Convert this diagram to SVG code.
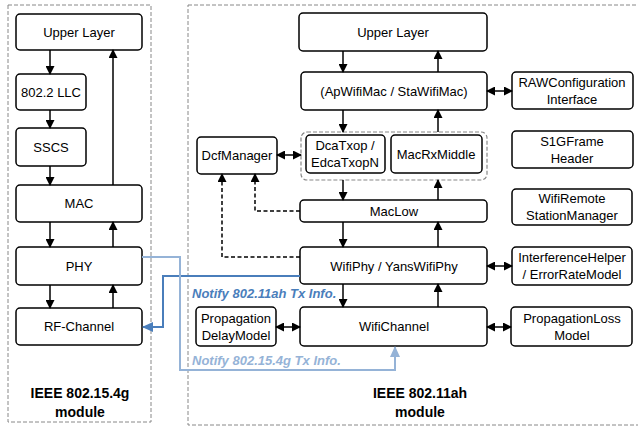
<svg xmlns="http://www.w3.org/2000/svg" width="638" height="428" viewBox="0 0 638 428">
<defs>
<marker id="ah" markerWidth="9" markerHeight="9" refX="8" refY="4.5" orient="auto-start-reverse" markerUnits="userSpaceOnUse"><path d="M0,0 L9,4.5 L0,9 Z" fill="#000"/></marker>
<marker id="ahb" markerWidth="12" markerHeight="10" refX="10" refY="5" orient="auto" markerUnits="userSpaceOnUse"><path d="M0,0 L11,5 L0,10 Z" fill="#4a7ebb"/></marker>
<marker id="ahl" markerWidth="12" markerHeight="10" refX="10" refY="5" orient="auto" markerUnits="userSpaceOnUse"><path d="M0,0 L11,5 L0,10 Z" fill="#95b3d7"/></marker>
<style>
.box{fill:#fff;stroke:#000;stroke-width:1.5}
.mod{fill:none;stroke:#888;stroke-width:1;stroke-dasharray:4,2}
.grp{fill:none;stroke:#888;stroke-width:1.2;stroke-dasharray:4,2}
.t{font-family:"Liberation Sans",Arial,sans-serif;font-size:13px;fill:#000;text-anchor:middle}
.b{font-family:"Liberation Sans",Arial,sans-serif;font-size:14px;font-weight:bold;fill:#000;text-anchor:middle}
.n{font-family:"Liberation Sans",Arial,sans-serif;font-size:13px;font-weight:bold;font-style:italic}
.a{stroke:#000;stroke-width:1.5;fill:none;marker-end:url(#ah)}
.d{stroke:#000;stroke-width:1.5;fill:none;marker-start:url(#ah);marker-end:url(#ah)}
.ds{stroke:#000;stroke-width:1.5;fill:none;stroke-dasharray:4,2.5;marker-end:url(#ah)}
</style>
</defs>
<rect class="mod" x="8" y="5" width="143" height="417"/>
<rect class="mod" x="188" y="5" width="460" height="420"/>
<text class="b" x="80" y="398">IEEE 802.15.4g</text>
<text class="b" x="80" y="417">module</text>
<text class="b" x="420" y="398">IEEE 802.11ah</text>
<text class="b" x="420" y="417">module</text>

<g id="l-upper"><rect class="box" x="16" y="14" width="126" height="36" rx="4"/><text class="t" x="79" y="37">Upper Layer</text></g>
<g id="l-llc"><rect class="box" x="16" y="74" width="70" height="36" rx="4"/><text class="t" x="51" y="97">802.2 LLC</text></g>
<g id="l-sscs"><rect class="box" x="16" y="128" width="70" height="38" rx="4"/><text class="t" x="51" y="152">SSCS</text></g>
<g id="l-mac"><rect class="box" x="16" y="185" width="126" height="37" rx="4"/><text class="t" x="79" y="208">MAC</text></g>
<g id="l-phy"><rect class="box" x="16" y="247" width="126" height="38" rx="4"/><text class="t" x="79" y="271">PHY</text></g>
<g id="l-rf"><rect class="box" x="16" y="308" width="126" height="37" rx="4"/><text class="t" x="79" y="331">RF-Channel</text></g>

<g id="r-upper"><rect class="box" x="299" y="13" width="188" height="38" rx="4"/><text class="t" x="393" y="37">Upper Layer</text></g>
<g id="r-mac"><rect class="box" x="301" y="72" width="186" height="38" rx="4"/><text class="t" x="394" y="96">(ApWifiMac / StaWifiMac)</text></g>
<g id="r-raw"><rect class="box" x="512" y="72" width="121" height="37" rx="4"/><text class="t" x="572" y="87">RAWConfiguration</text><text class="t" x="572" y="104">Interface</text></g>
<g id="r-grp"><rect class="grp" x="301" y="132" width="186" height="48" rx="6"/></g>
<g id="r-dca"><rect class="box" x="306" y="135" width="79" height="38" rx="4"/><text class="t" x="345" y="150">DcaTxop /</text><text class="t" x="345" y="167">EdcaTxopN</text></g>
<g id="r-rx"><rect class="box" x="391" y="135" width="91" height="38" rx="4"/><text class="t" x="436" y="159">MacRxMiddle</text></g>
<g id="r-dcf"><rect class="box" x="197" y="137" width="80" height="37" rx="4"/><text class="t" x="237" y="160">DcfManager</text></g>
<g id="r-s1g"><rect class="box" x="512" y="131" width="121" height="37" rx="4"/><text class="t" x="572" y="146">S1GFrame</text><text class="t" x="572" y="163">Header</text></g>
<g id="r-maclow"><rect class="box" x="300" y="200" width="187" height="22" rx="4"/><text class="t" x="394" y="216">MacLow</text></g>
<g id="r-wrsm"><rect class="box" x="512" y="189" width="120" height="36" rx="4"/><text class="t" x="572" y="203">WifiRemote</text><text class="t" x="572" y="220">StationManager</text></g>
<g id="r-phy"><rect class="box" x="300" y="247" width="187" height="37" rx="4"/><text class="t" x="394" y="271">WifiPhy / YansWifiPhy</text></g>
<g id="r-ih"><rect class="box" x="512" y="247" width="120" height="38" rx="4"/><text class="t" x="572" y="262">InterferenceHelper</text><text class="t" x="572" y="279">/ ErrorRateModel</text></g>
<g id="r-ch"><rect class="box" x="300" y="307" width="187" height="39" rx="4"/><text class="t" x="394" y="331">WifiChannel</text></g>
<g id="r-pd"><rect class="box" x="196" y="307" width="80" height="39" rx="4"/><text class="t" x="236" y="323">Propagation</text><text class="t" x="236" y="340">DelayModel</text></g>
<g id="r-pl"><rect class="box" x="511" y="307" width="121" height="39" rx="4"/><text class="t" x="572" y="323">PropagationLoss</text><text class="t" x="572" y="340">Model</text></g>

<g id="connectors">
<path class="a" d="M50,50 V74"/>
<path class="a" d="M50,110 V128"/>
<path class="a" d="M50,166 V185"/>
<path class="a" d="M113,185 V50"/>
<path class="a" d="M50,222 V247"/>
<path class="a" d="M113,247 V222"/>
<path class="a" d="M50,285 V308"/>
<path class="a" d="M113,308 V285"/>

<path class="a" d="M343,51 V72"/>
<path class="a" d="M438,72 V51"/>
<path class="a" d="M343,110 V132"/>
<path class="a" d="M438,132 V110"/>
<path class="a" d="M343,180 V200"/>
<path class="a" d="M438,200 V180"/>
<path class="a" d="M343,222 V247"/>
<path class="a" d="M438,247 V222"/>
<path class="a" d="M343,284 V307"/>
<path class="a" d="M438,307 V284"/>

<path class="d" d="M487,91 H512"/>
<path class="d" d="M277,155 H301"/>
<path class="d" d="M487,266 H512"/>
<path class="d" d="M276,327 H300"/>
<path class="d" d="M487,327 H511"/>

<path class="ds" d="M300,211 H255 V174"/>
<path class="ds" d="M300,257 H222 V174"/>

<path d="M300,276 H163 V327 H143" fill="none" stroke="#4a7ebb" stroke-width="2" marker-end="url(#ahb)"/>
<path d="M142,257 H180 V370 H395 V347" fill="none" stroke="#95b3d7" stroke-width="2" marker-end="url(#ahl)"/>
</g>
<text class="n" x="192" y="298" fill="#4a7ebb">Notify 802.11ah Tx Info.</text>
<text class="n" x="192" y="365" fill="#95b3d7">Notify 802.15.4g Tx Info.</text>
</svg>
